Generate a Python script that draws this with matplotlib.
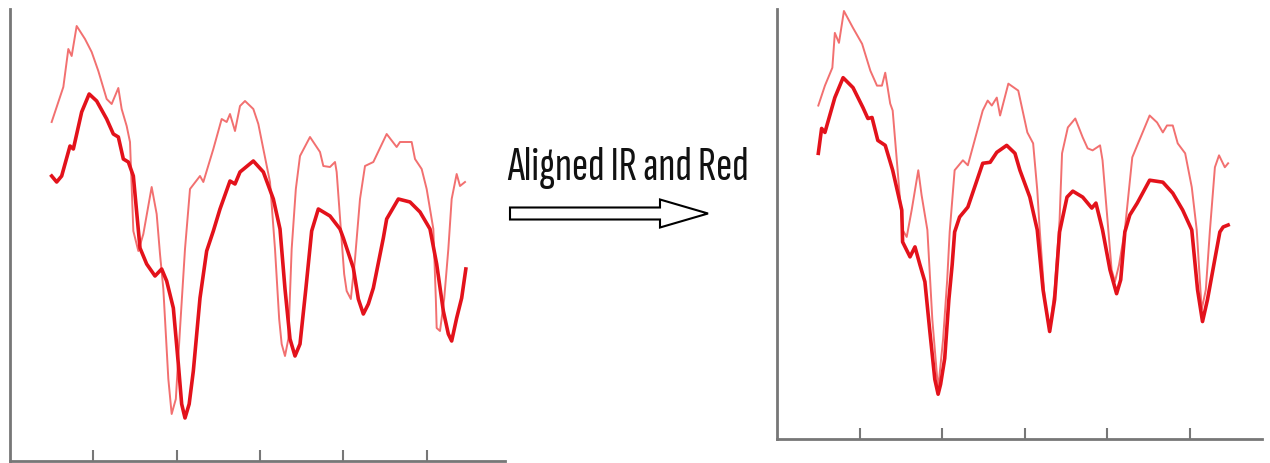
import matplotlib
matplotlib.use("Agg")
import matplotlib.pyplot as plt
from matplotlib.patches import FancyArrow

# ---- raw (unaligned) PPG traces: sample index and amplitude (arbitrary units)
raw_ir_x = [50, 56, 64, 70, 74, 80, 90, 98, 106, 116, 122, 130, 134, 140, 144, 148, 154, 160, 170, 176,
            180, 184, 190, 194, 199, 204, 210, 216, 228, 232, 244, 254, 260, 264, 270, 276, 282, 292, 298,
            304, 312, 318, 323, 326, 330, 334, 338, 343, 348, 360, 372, 376, 384, 390, 392, 397, 401, 404,
            409, 414, 420, 426, 436, 452, 464, 468, 482, 486, 494, 500, 508, 511, 512, 516, 521, 526, 530,
            536, 540, 546]
raw_ir_y = [339, 354, 374, 412, 405, 435, 422, 409, 390, 362, 357, 373, 352, 335, 319, 230, 210, 227, 274, 247,
            207, 172, 82, 47, 62, 132, 212, 272, 285, 279, 312, 342, 339, 347, 330, 355, 360, 352, 337,
            312, 279, 212, 142, 117, 105, 122, 212, 272, 305, 324, 309, 295, 294, 299, 289, 232, 187, 170,
            162, 202, 262, 295, 299, 327, 314, 319, 319, 302, 292, 272, 232, 162, 133, 130, 162, 212, 262,
            287, 275, 279]

raw_red_x = [50, 56, 62, 72, 76, 86, 95, 104, 116, 124, 130, 136, 142, 148, 156, 164, 174, 182, 188, 196,
             202, 206, 210, 215, 220, 228, 236, 244, 252, 264, 270, 276, 292, 304, 316, 324, 330, 336, 342,
             348, 355, 362, 370, 384, 396, 400, 412, 418, 424, 430, 436, 448, 452, 466, 480, 492, 504, 512,
             520, 526, 530, 536, 542, 547]
raw_red_y = [285, 279, 285, 315, 312, 349, 367, 360, 342, 327, 324, 302, 299, 285, 213, 197, 185, 192, 180, 153,
             97, 57, 43, 57, 90, 163, 210, 230, 252, 280, 277, 289, 300, 289, 262, 232, 172, 122, 105,
             117, 172, 230, 252, 245, 232, 223, 193, 162, 147, 157, 173, 223, 242, 262, 259, 249, 232, 197,
             150, 127, 120, 143, 163, 192]

# ---- aligned traces
al_ir_x = [50, 58, 67, 70, 75, 81, 92, 103, 113, 121, 127, 131, 137, 140, 146, 152, 157, 163, 171, 175,
           182, 188, 195, 201, 206, 209, 215, 225, 231, 249, 255, 260, 266, 270, 280, 292, 303, 310, 315,
           318, 324, 330, 336, 342, 345, 352, 361, 370, 376, 382, 391, 394, 401, 405, 409, 414, 421, 430,
           437, 451, 460, 467, 472, 479, 485, 494, 502, 508, 514, 519, 524, 530, 535, 542, 546]
al_ir_y = [335, 355, 373, 408, 398, 430, 413, 397, 370, 355, 355, 368, 337, 330, 270, 210, 203, 230, 270, 245,
           210, 120, 50, 100, 160, 208, 270, 280, 275, 330, 340, 335, 343, 325, 357, 350, 308, 297, 250,
           210, 140, 110, 150, 220, 287, 313, 322, 303, 292, 290, 295, 280, 210, 170, 158, 175, 210, 283,
           297, 325, 318, 308, 315, 315, 297, 287, 253, 210, 130, 150, 210, 273, 285, 273, 277]

al_red_x = [50, 54, 58, 70, 80, 92, 104, 110, 115, 122, 131, 140, 151, 152, 161, 167, 173, 179, 185, 191,
            195, 198, 203, 208, 212, 215, 221, 231, 240, 249, 258, 266, 278, 288, 294, 306, 315, 322, 330,
            336, 342, 351, 358, 370, 381, 386, 394, 403, 411, 416, 421, 427, 436, 451, 467, 479, 491, 502,
            509, 515, 521, 530, 536, 540, 546]
al_red_y = [287, 312, 308, 343, 363, 353, 333, 322, 323, 300, 295, 270, 230, 198, 183, 193, 175, 158, 108, 60,
            45, 55, 81, 140, 175, 208, 223, 233, 255, 277, 278, 288, 295, 287, 270, 243, 210, 150, 108,
            140, 208, 243, 249, 243, 232, 237, 210, 170, 146, 160, 208, 225, 237, 260, 258, 247, 230, 210,
            150, 118, 140, 181, 208, 213, 215]

tick_positions = [100, 200, 300, 400, 500]
caption = "Aligned IR and Red"

IR_COLOR = "#f27070"
RED_COLOR = "#e3121b"
AXIS_COLOR = "#777777"
CAPTION_FONTS = ["Sofia Sans Extra Condensed", "Archivo Narrow", "Liberation Sans", "DejaVu Sans"]

W, H = 1270, 464
fig = plt.figure(figsize=(W / 100, H / 100), dpi=100)
fig.patch.set_facecolor("white")


def style_axes(ax):
    for side in ("top", "right"):
        ax.spines[side].set_visible(False)
    for side in ("left", "bottom"):
        ax.spines[side].set_color(AXIS_COLOR)
        ax.spines[side].set_linewidth(2.0)
    ax.set_xticks(tick_positions)
    ax.set_xticklabels([])
    ax.set_yticks([])
    ax.tick_params(axis="x", direction="in", length=8, width=1.5, color=AXIS_COLOR)
    ax.set_facecolor("none")


# left panel: raw traces
ax1 = fig.add_axes([10 / W, 2 / H, 495 / W, 452 / H])
ax1.plot(raw_ir_x, raw_ir_y, color=IR_COLOR, lw=1.4, solid_joinstyle="round")
ax1.plot(raw_red_x, raw_red_y, color=RED_COLOR, lw=2.6, solid_joinstyle="round")
ax1.set_xlim(0, 594)
ax1.set_ylim(0, 452)
style_axes(ax1)

# right panel: aligned traces
ax2 = fig.add_axes([777 / W, 24 / H, 485 / W, 430 / H])
ax2.plot(al_ir_x, al_ir_y, color=IR_COLOR, lw=1.4, solid_joinstyle="round")
ax2.plot(al_red_x, al_red_y, color=RED_COLOR, lw=2.6, solid_joinstyle="round")
ax2.set_xlim(0, 587)
ax2.set_ylim(0, 432)
style_axes(ax2)

# caption and hollow arrow between the panels
ov = fig.add_axes([0, 0, 1, 1], facecolor="none")
ov.set_xlim(0, W)
ov.set_ylim(H, 0)
ov.axis("off")
txt = ov.text(628, 180, caption, ha="center", va="baseline", fontsize=40,
              family=CAPTION_FONTS, color="#111111")
# size the caption so it spans about 241 px
renderer = fig.canvas.get_renderer()
width_px = txt.get_window_extent(renderer).width
txt.set_fontsize(40 * 241 / width_px)

ov.add_patch(FancyArrow(510, 214.5, 198, 0, width=12, head_width=28, head_length=48,
                        length_includes_head=True, fc="white", ec="black", lw=1.5))

fig.savefig("out.png", dpi=100)
